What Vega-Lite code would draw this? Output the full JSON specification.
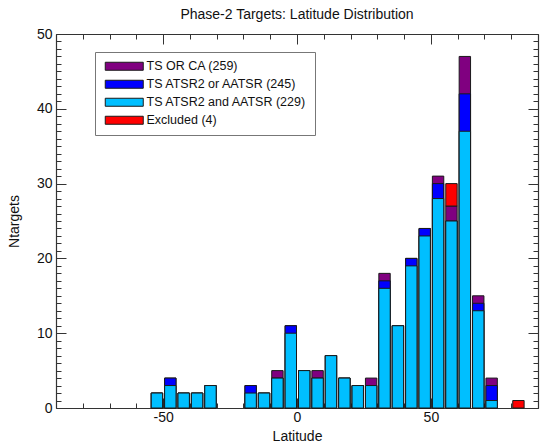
{
  "$schema": "https://vega.github.io/schema/vega-lite/v6.json",
  "width": 482,
  "height": 374,
  "autosize": "none",
  "padding": {"left": 56, "top": 34, "right": 2, "bottom": 40},
  "title": {
    "text": "Phase-2 Targets: Latitude Distribution",
    "font": "Liberation Sans",
    "fontSize": 14,
    "fontWeight": "normal",
    "color": "#111",
    "offset": 5
  },
  "data": {
    "values": [
      {"lat": -55, "lat_end": -50, "set": "TS OR CA (259)", "n": 2},
      {"lat": -50, "lat_end": -45, "set": "TS OR CA (259)", "n": 4},
      {"lat": -45, "lat_end": -40, "set": "TS OR CA (259)", "n": 2},
      {"lat": -40, "lat_end": -35, "set": "TS OR CA (259)", "n": 2},
      {"lat": -35, "lat_end": -30, "set": "TS OR CA (259)", "n": 3},
      {"lat": -20, "lat_end": -15, "set": "TS OR CA (259)", "n": 3},
      {"lat": -15, "lat_end": -10, "set": "TS OR CA (259)", "n": 2},
      {"lat": -10, "lat_end": -5, "set": "TS OR CA (259)", "n": 5},
      {"lat": -5, "lat_end": 0, "set": "TS OR CA (259)", "n": 11},
      {"lat": 0, "lat_end": 5, "set": "TS OR CA (259)", "n": 5},
      {"lat": 5, "lat_end": 10, "set": "TS OR CA (259)", "n": 5},
      {"lat": 10, "lat_end": 15, "set": "TS OR CA (259)", "n": 7},
      {"lat": 15, "lat_end": 20, "set": "TS OR CA (259)", "n": 4},
      {"lat": 20, "lat_end": 25, "set": "TS OR CA (259)", "n": 3},
      {"lat": 25, "lat_end": 30, "set": "TS OR CA (259)", "n": 4},
      {"lat": 30, "lat_end": 35, "set": "TS OR CA (259)", "n": 18},
      {"lat": 35, "lat_end": 40, "set": "TS OR CA (259)", "n": 11},
      {"lat": 40, "lat_end": 45, "set": "TS OR CA (259)", "n": 20},
      {"lat": 45, "lat_end": 50, "set": "TS OR CA (259)", "n": 24},
      {"lat": 50, "lat_end": 55, "set": "TS OR CA (259)", "n": 31},
      {"lat": 55, "lat_end": 60, "set": "TS OR CA (259)", "n": 27},
      {"lat": 60, "lat_end": 65, "set": "TS OR CA (259)", "n": 47},
      {"lat": 65, "lat_end": 70, "set": "TS OR CA (259)", "n": 15},
      {"lat": 70, "lat_end": 75, "set": "TS OR CA (259)", "n": 4},

      {"lat": -55, "lat_end": -50, "set": "TS ATSR2 or AATSR (245)", "n": 2},
      {"lat": -50, "lat_end": -45, "set": "TS ATSR2 or AATSR (245)", "n": 4},
      {"lat": -45, "lat_end": -40, "set": "TS ATSR2 or AATSR (245)", "n": 2},
      {"lat": -40, "lat_end": -35, "set": "TS ATSR2 or AATSR (245)", "n": 2},
      {"lat": -35, "lat_end": -30, "set": "TS ATSR2 or AATSR (245)", "n": 3},
      {"lat": -20, "lat_end": -15, "set": "TS ATSR2 or AATSR (245)", "n": 3},
      {"lat": -15, "lat_end": -10, "set": "TS ATSR2 or AATSR (245)", "n": 2},
      {"lat": -10, "lat_end": -5, "set": "TS ATSR2 or AATSR (245)", "n": 4},
      {"lat": -5, "lat_end": 0, "set": "TS ATSR2 or AATSR (245)", "n": 11},
      {"lat": 0, "lat_end": 5, "set": "TS ATSR2 or AATSR (245)", "n": 5},
      {"lat": 5, "lat_end": 10, "set": "TS ATSR2 or AATSR (245)", "n": 4},
      {"lat": 10, "lat_end": 15, "set": "TS ATSR2 or AATSR (245)", "n": 7},
      {"lat": 15, "lat_end": 20, "set": "TS ATSR2 or AATSR (245)", "n": 4},
      {"lat": 20, "lat_end": 25, "set": "TS ATSR2 or AATSR (245)", "n": 3},
      {"lat": 25, "lat_end": 30, "set": "TS ATSR2 or AATSR (245)", "n": 3},
      {"lat": 30, "lat_end": 35, "set": "TS ATSR2 or AATSR (245)", "n": 17},
      {"lat": 35, "lat_end": 40, "set": "TS ATSR2 or AATSR (245)", "n": 11},
      {"lat": 40, "lat_end": 45, "set": "TS ATSR2 or AATSR (245)", "n": 20},
      {"lat": 45, "lat_end": 50, "set": "TS ATSR2 or AATSR (245)", "n": 24},
      {"lat": 50, "lat_end": 55, "set": "TS ATSR2 or AATSR (245)", "n": 30},
      {"lat": 55, "lat_end": 60, "set": "TS ATSR2 or AATSR (245)", "n": 25},
      {"lat": 60, "lat_end": 65, "set": "TS ATSR2 or AATSR (245)", "n": 42},
      {"lat": 65, "lat_end": 70, "set": "TS ATSR2 or AATSR (245)", "n": 14},
      {"lat": 70, "lat_end": 75, "set": "TS ATSR2 or AATSR (245)", "n": 3},

      {"lat": -55, "lat_end": -50, "set": "TS ATSR2 and AATSR (229)", "n": 2},
      {"lat": -50, "lat_end": -45, "set": "TS ATSR2 and AATSR (229)", "n": 3},
      {"lat": -45, "lat_end": -40, "set": "TS ATSR2 and AATSR (229)", "n": 2},
      {"lat": -40, "lat_end": -35, "set": "TS ATSR2 and AATSR (229)", "n": 2},
      {"lat": -35, "lat_end": -30, "set": "TS ATSR2 and AATSR (229)", "n": 3},
      {"lat": -20, "lat_end": -15, "set": "TS ATSR2 and AATSR (229)", "n": 2},
      {"lat": -15, "lat_end": -10, "set": "TS ATSR2 and AATSR (229)", "n": 2},
      {"lat": -10, "lat_end": -5, "set": "TS ATSR2 and AATSR (229)", "n": 4},
      {"lat": -5, "lat_end": 0, "set": "TS ATSR2 and AATSR (229)", "n": 10},
      {"lat": 0, "lat_end": 5, "set": "TS ATSR2 and AATSR (229)", "n": 5},
      {"lat": 5, "lat_end": 10, "set": "TS ATSR2 and AATSR (229)", "n": 4},
      {"lat": 10, "lat_end": 15, "set": "TS ATSR2 and AATSR (229)", "n": 7},
      {"lat": 15, "lat_end": 20, "set": "TS ATSR2 and AATSR (229)", "n": 4},
      {"lat": 20, "lat_end": 25, "set": "TS ATSR2 and AATSR (229)", "n": 3},
      {"lat": 25, "lat_end": 30, "set": "TS ATSR2 and AATSR (229)", "n": 3},
      {"lat": 30, "lat_end": 35, "set": "TS ATSR2 and AATSR (229)", "n": 16},
      {"lat": 35, "lat_end": 40, "set": "TS ATSR2 and AATSR (229)", "n": 11},
      {"lat": 40, "lat_end": 45, "set": "TS ATSR2 and AATSR (229)", "n": 19},
      {"lat": 45, "lat_end": 50, "set": "TS ATSR2 and AATSR (229)", "n": 23},
      {"lat": 50, "lat_end": 55, "set": "TS ATSR2 and AATSR (229)", "n": 28},
      {"lat": 55, "lat_end": 60, "set": "TS ATSR2 and AATSR (229)", "n": 25},
      {"lat": 60, "lat_end": 65, "set": "TS ATSR2 and AATSR (229)", "n": 37},
      {"lat": 65, "lat_end": 70, "set": "TS ATSR2 and AATSR (229)", "n": 13},
      {"lat": 70, "lat_end": 75, "set": "TS ATSR2 and AATSR (229)", "n": 1},

      {"lat": 55, "lat_end": 60, "set": "Excluded (4)", "n": 3},
      {"lat": 80, "lat_end": 85, "set": "Excluded (4)", "n": 1}
    ]
  },
  "layer": [
    {
      "transform": [{"filter": {"field": "set", "oneOf": ["TS OR CA (259)", "Excluded (4)"]}}],
      "mark": {"type": "bar", "stroke": "#1a1a1a", "strokeWidth": 1, "binSpacing": 2},
      "encoding": {
        "x": {
          "field": "lat", "type": "quantitative", "bin": {"binned": true, "step": 5},
          "scale": {"domain": [-90, 90], "nice": false},
          "axis": {
            "orient": "bottom",
            "title": "Latitude",
            "titlePadding": 0,
            "values": [-90, -80, -70, -60, -50, -40, -30, -20, -10, 0, 10, 20, 30, 40, 50, 60, 70, 80, 90],
            "labelExpr": "datum.value % 50 === 0 ? '' + datum.value : ''",
            "tickSize": {"condition": {"test": "datum.value % 50 === 0", "value": -10}, "value": -5},
            "labelPadding": 12
          }
        },
        "x2": {"field": "lat_end"},
        "y": {
          "field": "n", "type": "quantitative", "stack": "zero",
          "scale": {"domain": [0, 50], "nice": false},
          "axis": {
            "orient": "left",
            "title": "Ntargets",
            "titlePadding": 15,
            "values": [0,1,2,3,4,5,6,7,8,9,10,11,12,13,14,15,16,17,18,19,20,21,22,23,24,25,26,27,28,29,30,31,32,33,34,35,36,37,38,39,40,41,42,43,44,45,46,47,48,49,50],
            "labelExpr": "datum.value % 10 === 0 ? datum.label : ''",
            "tickSize": {"condition": {"test": "datum.value % 10 === 0", "value": -10}, "value": -5},
            "labelPadding": 14
          }
        },
        "color": {
          "field": "set", "type": "nominal",
          "scale": {
            "domain": ["TS OR CA (259)", "TS ATSR2 or AATSR (245)", "TS ATSR2 and AATSR (229)", "Excluded (4)"],
            "range": ["#800080", "#0000ff", "#00bfff", "#ff0000"]
          },
          "legend": {
            "orient": "none", "legendX": 39, "legendY": 18, "title": null,
            "symbolType": "M-4.75,-1H4.75V1H-4.75Z", "symbolSize": 64,
            "symbolStrokeColor": "#000", "symbolStrokeWidth": 1, "symbolOpacity": 1,
            "symbolOffset": 15, "labelOffset": 16,
            "labelFont": "Liberation Sans", "labelFontSize": 12.5, "labelColor": "#111", "labelLimit": 300,
            "strokeColor": "#777", "padding": 8, "rowPadding": 5
          }
        },
        "order": {"field": "set", "sort": "descending"}
      }
    },
    {
      "transform": [{"filter": {"field": "set", "equal": "TS ATSR2 or AATSR (245)"}}],
      "mark": {"type": "bar", "stroke": "#1a1a1a", "strokeWidth": 1, "binSpacing": 2},
      "encoding": {
        "x": {
          "field": "lat", "type": "quantitative", "bin": {"binned": true, "step": 5},
          "axis": {
            "orient": "top", "title": null, "labels": false,
            "values": [-90, -80, -70, -60, -50, -40, -30, -20, -10, 0, 10, 20, 30, 40, 50, 60, 70, 80, 90],
            "tickSize": {"condition": {"test": "datum.value % 50 === 0", "value": -10}, "value": -5}
          }
        },
        "x2": {"field": "lat_end"},
        "y": {
          "field": "n", "type": "quantitative", "stack": null,
          "axis": {
            "orient": "right", "title": null, "labels": false,
            "values": [0,1,2,3,4,5,6,7,8,9,10,11,12,13,14,15,16,17,18,19,20,21,22,23,24,25,26,27,28,29,30,31,32,33,34,35,36,37,38,39,40,41,42,43,44,45,46,47,48,49,50],
            "tickSize": {"condition": {"test": "datum.value % 10 === 0", "value": -10}, "value": -5}
          }
        },
        "color": {"field": "set", "type": "nominal"}
      }
    },
    {
      "transform": [{"filter": {"field": "set", "equal": "TS ATSR2 and AATSR (229)"}}],
      "mark": {"type": "bar", "stroke": "#1a1a1a", "strokeWidth": 1, "binSpacing": 2},
      "encoding": {
        "x": {"field": "lat", "type": "quantitative", "bin": {"binned": true, "step": 5}, "axis": null},
        "x2": {"field": "lat_end"},
        "y": {"field": "n", "type": "quantitative", "stack": null, "axis": null},
        "color": {"field": "set", "type": "nominal"}
      }
    }
  ],
  "resolve": {"axis": {"x": "independent", "y": "independent"}},
  "config": {
    "view": {"stroke": null},
    "axis": {
      "grid": false,
      "domainColor": "#333",
      "domainWidth": 1.2,
      "tickColor": "#333",
      "tickWidth": 1,
      "labelFont": "Liberation Sans",
      "labelFontSize": 14,
      "labelColor": "#111",
      "labelOverlap": false,
      "labelFlush": false,
      "titleFont": "Liberation Sans",
      "titleFontSize": 14,
      "titleFontWeight": "normal",
      "titleColor": "#111"
    }
  }
}
